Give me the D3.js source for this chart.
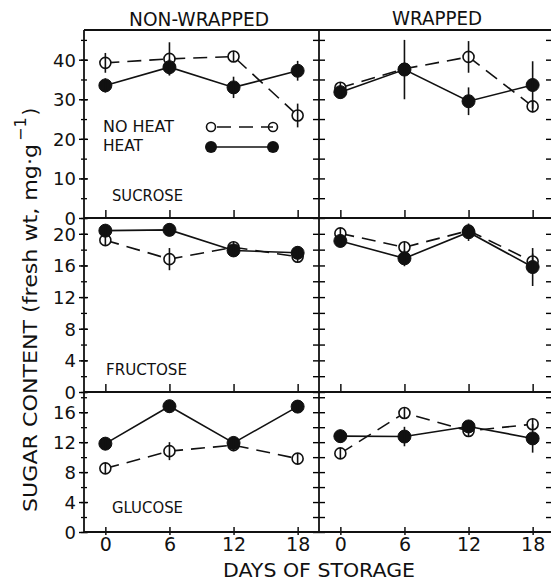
<!DOCTYPE html>
<html>
<head>
<meta charset="utf-8">
<script src="https://cdn.jsdelivr.net/npm/d3@7"></script>
<style>
  body { margin: 0; background: #fff; }
  svg text { font-family: "DejaVu Sans", sans-serif; fill: #111; }
</style>
</head>
<body>
<div id="chart"></div>
<script>

// storage days
var days = [0, 6, 12, 18];

// sucrose, mg/g fresh wt
var sucNwNoHeat = [39.2, 40.2, 40.8, 25.9];
var sucNwNoHeatErr = [2.5, 4.2, 1.0, 3.0];
var sucNwHeat = [33.5, 38.1, 33.0, 37.2];
var sucNwHeatErr = [1.8, 2.0, 2.7, 2.5];
var sucWNoHeat = [32.9, 37.7, 40.7, 28.2];
var sucWNoHeatErr = [0.6, 1.0, 4.0, 1.5];
var sucWHeat = [31.8, 37.5, 29.5, 33.6];
var sucWHeatErr = [1.0, 7.5, 3.5, 6.0];

// fructose
var fruNwNoHeat = [19.2, 16.8, 18.3, 17.1];
var fruNwNoHeatErr = [0.5, 1.4, 0.5, 0.5];
var fruNwHeat = [20.4, 20.5, 17.9, 17.6];
var fruNwHeatErr = [0.5, 0.5, 0.8, 0.7];
var fruWNoHeat = [20.05, 18.3, 20.4, 16.5];
var fruWNoHeatErr = [0.5, 0.6, 0.3, 1.0];
var fruWHeat = [19.1, 16.9, 20.2, 15.8];
var fruWHeatErr = [0.5, 1.0, 1.1, 2.4];

// glucose
var gluNwNoHeat = [8.5, 10.8, 11.6, 9.8];
var gluNwNoHeatErr = [0.3, 1.2, 0.8, 0.3];
var gluNwHeat = [11.8, 16.8, 11.9, 16.75];
var gluNwHeatErr = [0.4, 0.4, 0.6, 0.4];
var gluWNoHeat = [10.5, 15.9, 13.5, 14.4];
var gluWNoHeatErr = [0.5, 0.5, 0.5, 0.5];
var gluWHeat = [12.8, 12.75, 14.1, 12.5];
var gluWHeatErr = [0.3, 1.3, 0.5, 1.9];

// tick labels
var sucTicks = [0, 10, 20, 30, 40];
var fruTicks = [0, 4, 8, 12, 16, 20];
var gluTicks = [0, 4, 8, 12, 16];
var panelTitles = ["NON-WRAPPED", "WRAPPED"];

var width = 551, height = 581;
var xLeft = 84, pw = 235;
var sw = 1.8;

var rows = [
  { label: "SUCROSE", top: 30, bottom: 218, max: 47.5, ticks: sucTicks, step: 5,
    series: [[sucNwNoHeat, sucNwNoHeatErr, sucNwHeat, sucNwHeatErr],
             [sucWNoHeat, sucWNoHeatErr, sucWHeat, sucWHeatErr]],
    lab: { x: 112, y: 201, w: 71 } },
  { label: "FRUCTOSE", top: 218, bottom: 392, max: 22, ticks: fruTicks, step: 2,
    series: [[fruNwNoHeat, fruNwNoHeatErr, fruNwHeat, fruNwHeatErr],
             [fruWNoHeat, fruWNoHeatErr, fruWHeat, fruWHeatErr]],
    lab: { x: 106, y: 375, w: 81 } },
  { label: "GLUCOSE", top: 392, bottom: 532, max: 18.7, ticks: gluTicks, step: 2,
    series: [[gluNwNoHeat, gluNwNoHeatErr, gluNwHeat, gluNwHeatErr],
             [gluWNoHeat, gluWNoHeatErr, gluWHeat, gluWHeatErr]],
    lab: { x: 112, y: 513, w: 71 } }
];

var svg = d3.select("#chart").append("svg")
  .attr("width", width).attr("height", height);

function xScale(i){
  return d3.scaleLinear().domain([-2, 20]).range([xLeft + i*pw, xLeft + (i+1)*pw]);
}

function drawSeries(g, x, y, vals, errs, open){
  var pts = days.map(function(d, k){ return { d: d, v: vals[k], e: errs[k] }; });
  var r = open ? 5.5 : 6.5;

  g.append("path")
    .datum(pts)
    .attr("fill", "none")
    .attr("stroke", "#111")
    .attr("stroke-width", 1.6)
    .attr("stroke-dasharray", open ? "14,8" : null)
    .attr("d", d3.line().x(function(p){ return x(p.d); }).y(function(p){ return y(p.v); }));

  g.selectAll(null).data(pts).enter().append("circle")
    .attr("cx", function(p){ return x(p.d); })
    .attr("cy", function(p){ return y(p.v); })
    .attr("r", r)
    .attr("fill", open ? "#fff" : "#111")
    .attr("stroke", "#111")
    .attr("stroke-width", open ? 1.6 : 1);

  g.selectAll(null).data(pts).enter().append("line")
    .attr("x1", function(p){ return x(p.d); })
    .attr("x2", function(p){ return x(p.d); })
    .attr("y1", function(p){ return Math.min(y(p.v + p.e), y(p.v) - r); })
    .attr("y2", function(p){ return Math.max(y(p.v - p.e), y(p.v) + r); })
    .attr("stroke", "#111")
    .attr("stroke-width", 1.6);
}

rows.forEach(function(row, ri){
  var y = d3.scaleLinear().domain([0, row.max]).range([row.bottom, row.top]);
  var minor = d3.range(0, row.max, row.step);

  // left axis, labels + crossing ticks
  var ax = svg.append("g").attr("transform", "translate(" + xLeft + ",0)")
    .call(d3.axisLeft(y).tickValues(row.ticks).tickSize(5).tickPadding(3));
  ax.select(".domain").remove();
  ax.selectAll(".tick line").attr("x2", -5).attr("x1", 4).attr("stroke-width", 1.4);
  ax.selectAll(".tick text")
    .style("font-size", "18px")
    .attr("dy", "0.36em");

  var axm = svg.append("g").attr("transform", "translate(" + xLeft + ",0)")
    .call(d3.axisLeft(y).tickValues(minor).tickSize(3).tickFormat(""));
  axm.select(".domain").remove();
  axm.selectAll(".tick line").attr("x1", 3).attr("stroke-width", 1.3);

  // middle divider ticks
  var axc = svg.append("g").attr("transform", "translate(" + (xLeft + pw) + ",0)")
    .call(d3.axisLeft(y).tickValues(minor).tickSize(6).tickFormat(""));
  axc.select(".domain").remove();
  axc.selectAll(".tick line").attr("x1", 6).attr("stroke-width", 1.4);

  // right edge ticks
  var axr = svg.append("g").attr("transform", "translate(" + (xLeft + 2*pw) + ",0)")
    .call(d3.axisLeft(y).tickValues(minor.slice(1)).tickSize(-5).tickFormat(""));
  axr.select(".domain").remove();
  axr.selectAll(".tick line").attr("x2", -8).attr("x1", -3).attr("stroke-width", 1.4);

  [0, 1].forEach(function(i){
    var x = xScale(i);
    var s = row.series[i];
    var xa = svg.append("g").attr("transform", "translate(0," + row.bottom + ")")
      .call(d3.axisTop(x).tickValues(days).tickSize(ri == 2 ? 5 : 8).tickFormat(""));
    xa.select(".domain").remove();
    xa.selectAll(".tick line").attr("stroke-width", 1.4);
    if(ri == 2){
      xa.selectAll(".tick line").attr("y2", -5).attr("y1", 3);
      var xb = svg.append("g").attr("transform", "translate(0," + row.bottom + ")")
        .call(d3.axisBottom(x).tickValues(days).tickSize(0).tickPadding(6));
      xb.select(".domain").remove();
      xb.selectAll(".tick text").style("font-size", "19px");
    }

    var g = svg.append("g");
    drawSeries(g, x, y, s[0], s[1], true);
    drawSeries(g, x, y, s[2], s[3], false);
  });

  svg.append("text")
    .attr("x", row.lab.x).attr("y", row.lab.y)
    .attr("textLength", row.lab.w).attr("lengthAdjust", "spacingAndGlyphs")
    .style("font-size", "15px")
    .text(row.label);

  svg.append("line")
    .attr("x1", xLeft).attr("x2", xLeft + 2*pw)
    .attr("y1", row.bottom).attr("y2", row.bottom)
    .attr("stroke", "#111").attr("stroke-width", sw);
});

// frame
svg.append("line").attr("x1", xLeft).attr("x2", xLeft + 2*pw).attr("y1", 30).attr("y2", 30)
  .attr("stroke", "#111").attr("stroke-width", sw);
[xLeft, xLeft + pw, xLeft + 2*pw - 1].forEach(function(xx){
  svg.append("line").attr("x1", xx).attr("x2", xx).attr("y1", 30).attr("y2", 532)
    .attr("stroke", "#111").attr("stroke-width", sw);
});

// panel titles
svg.append("text").attr("x", 129).attr("y", 26)
  .attr("textLength", 140).attr("lengthAdjust", "spacingAndGlyphs")
  .style("font-size", "19px").text(panelTitles[0]);
svg.append("text").attr("x", 392).attr("y", 25)
  .attr("textLength", 90).attr("lengthAdjust", "spacingAndGlyphs")
  .style("font-size", "19px").text(panelTitles[1]);

// x label
svg.append("text").attr("x", 223).attr("y", 577)
  .attr("textLength", 192).attr("lengthAdjust", "spacingAndGlyphs")
  .style("font-size", "19px").text("DAYS OF STORAGE");

// y label
var yl = svg.append("text")
  .attr("transform", "translate(37,512) rotate(-90)")
  .style("font-size", "20px");
yl.append("tspan")
  .attr("textLength", 368).attr("lengthAdjust", "spacingAndGlyphs")
  .text("SUGAR CONTENT (fresh wt, mg\u00b7g");
yl.append("tspan").attr("dx", 3).attr("dy", -11).style("font-size", "16px").text("\u22121");
yl.append("tspan").attr("dx", 2).attr("dy", 11).text(")");

// legend
var lg = svg.append("g");
lg.append("text").attr("x", 103).attr("y", 132)
  .attr("textLength", 71).attr("lengthAdjust", "spacingAndGlyphs")
  .style("font-size", "15px").text("NO HEAT");
lg.append("text").attr("x", 103).attr("y", 151)
  .attr("textLength", 40).attr("lengthAdjust", "spacingAndGlyphs")
  .style("font-size", "15px").text("HEAT");
lg.append("line").attr("x1", 217).attr("x2", 273).attr("y1", 127).attr("y2", 127)
  .attr("stroke", "#111").attr("stroke-width", 1.6).attr("stroke-dasharray", "14,8");
lg.append("line").attr("x1", 211).attr("x2", 273).attr("y1", 147).attr("y2", 147)
  .attr("stroke", "#111").attr("stroke-width", 1.6);
[211, 273].forEach(function(cx){
  lg.append("circle").attr("cx", cx).attr("cy", 127).attr("r", 4.5)
    .attr("fill", cx == 211 ? "#fff" : "none").attr("stroke", "#111").attr("stroke-width", 1.6);
  lg.append("circle").attr("cx", cx).attr("cy", 147).attr("r", 6)
    .attr("fill", "#111");
});

</script>
</body>
</html>
